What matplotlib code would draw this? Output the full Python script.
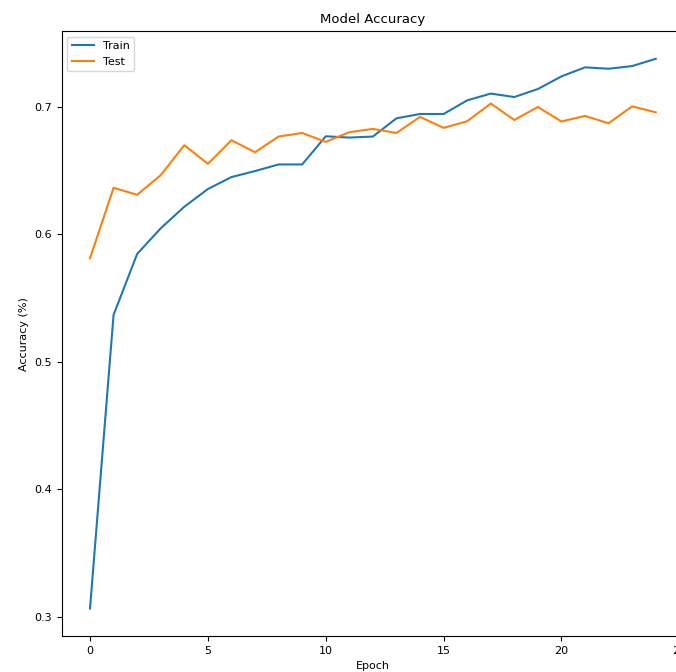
import matplotlib
matplotlib.use("Agg")
import matplotlib.pyplot as plt

# accuracy per epoch
epochs = list(range(25))
train_acc = [0.3065, 0.5369, 0.5847, 0.6048, 0.6217, 0.6356, 0.6450, 0.6497,
             0.6549, 0.6549, 0.6770, 0.6760, 0.6768, 0.6911, 0.6945, 0.6945,
             0.7052, 0.7105, 0.7078, 0.7141, 0.7240, 0.7311, 0.7300, 0.7321,
             0.7378]
test_acc = [0.5813, 0.6366, 0.6311, 0.6465, 0.6700, 0.6554, 0.6739, 0.6645,
            0.6768, 0.6796, 0.6726, 0.6802, 0.6828, 0.6796, 0.6922, 0.6836,
            0.6888, 0.7027, 0.6898, 0.7000, 0.6886, 0.6930, 0.6872, 0.7005,
            0.6958]

plt.rcParams['font.size'] = 8

fig = plt.figure(figsize=(6.76, 6.72), dpi=100)
ax = fig.add_axes([0.0913, 0.0536, 0.9206, 0.8998])

ax.plot(epochs, train_acc, color="tab:blue", lw=1.5, label="Train")
ax.plot(epochs, test_acc, color="tab:orange", lw=1.5, label="Test")

ax.set_title("Model Accuracy", fontsize=9.5)
ax.set_xlabel("Epoch")
ax.set_ylabel("Accuracy (%)")
ax.set_yticks([0.3, 0.4, 0.5, 0.6, 0.7])
ax.legend(loc="upper left")

fig.savefig("out.png", dpi=100)
